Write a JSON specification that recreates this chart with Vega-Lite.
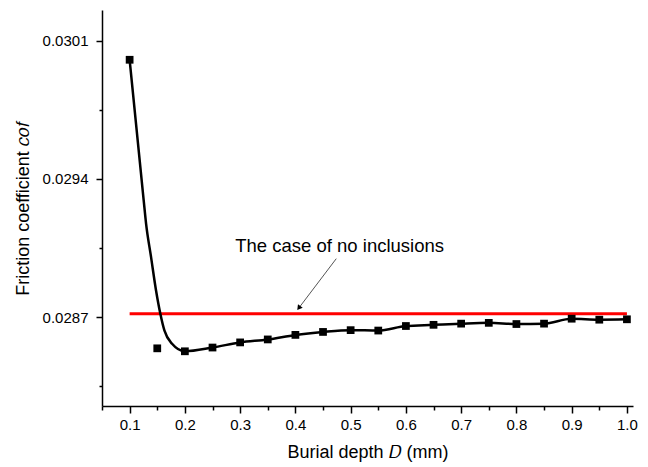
{
  "$schema": "https://vega.github.io/schema/vega-lite/v6.json",
  "width": 531,
  "height": 396,
  "autosize": "none",
  "padding": {"left": 102, "top": 10, "right": 15, "bottom": 61},
  "background": "white",
  "config": {"view": {"stroke": null}, "font": "Liberation Sans"},
  "datasets": {
    "markers": [
      {"x": 0.1, "y": 0.030003}, {"x": 0.15, "y": 0.028542}, {"x": 0.2, "y": 0.028527},
      {"x": 0.25, "y": 0.028546}, {"x": 0.3, "y": 0.028572}, {"x": 0.35, "y": 0.028587},
      {"x": 0.4, "y": 0.02861}, {"x": 0.45, "y": 0.028625}, {"x": 0.5, "y": 0.028634},
      {"x": 0.55, "y": 0.028632}, {"x": 0.6, "y": 0.028655}, {"x": 0.65, "y": 0.028661},
      {"x": 0.7, "y": 0.028667}, {"x": 0.75, "y": 0.028671}, {"x": 0.8, "y": 0.028665},
      {"x": 0.85, "y": 0.028667}, {"x": 0.9, "y": 0.028692}, {"x": 0.95, "y": 0.028687},
      {"x": 1.0, "y": 0.028689}
    ],
    "curve": [
      {"x": 0.1, "y": 0.030003}, {"x": 0.1254, "y": 0.029292}, {"x": 0.1297, "y": 0.029175},
      {"x": 0.1388, "y": 0.029004}, {"x": 0.1478, "y": 0.028835}, {"x": 0.1556, "y": 0.028717},
      {"x": 0.1629, "y": 0.028633}, {"x": 0.1768, "y": 0.028565}, {"x": 0.2, "y": 0.028527},
      {"x": 0.25, "y": 0.028546}, {"x": 0.3, "y": 0.028572}, {"x": 0.35, "y": 0.028587},
      {"x": 0.4, "y": 0.02861}, {"x": 0.45, "y": 0.028625}, {"x": 0.5, "y": 0.028634},
      {"x": 0.55, "y": 0.028632}, {"x": 0.6, "y": 0.028655}, {"x": 0.65, "y": 0.028661},
      {"x": 0.7, "y": 0.028667}, {"x": 0.75, "y": 0.028671}, {"x": 0.8, "y": 0.028665},
      {"x": 0.85, "y": 0.028667}, {"x": 0.9, "y": 0.028692}, {"x": 0.95, "y": 0.028687},
      {"x": 1.0, "y": 0.028689}
    ],
    "reference": [{"x": 0.1, "y": 0.028717}, {"x": 1.0, "y": 0.028717}],
    "arrow": [{"x": 0.474, "y": 0.028996, "x2": 0.4062, "y2": 0.028746}],
    "head": [{"x": 0.4062, "y": 0.028746}],
    "note": [{"x": 0.2912, "y": 0.02903, "label": "The case of no inclusions"}]
  },
  "encoding": {
    "x": {
      "field": "x", "type": "quantitative",
      "scale": {"domain": [0.05, 1.011], "nice": false, "zero": false},
      "axis": {
        "values": [0.05, 0.1, 0.15, 0.2, 0.25, 0.3, 0.35, 0.4, 0.45, 0.5, 0.55, 0.6, 0.65, 0.7, 0.75, 0.8, 0.85, 0.9, 0.95, 1.0],
        "labelExpr": "round(datum.value*100) % 10 == 0 ? format(datum.value, '.1f') : ''",
        "tickSize": {"condition": {"test": "round(datum.value*100) % 10 == 0", "value": 7}, "value": 4},
        "grid": false, "domainColor": "black", "domainWidth": 1.5, "tickColor": "black", "tickWidth": 1.5,
        "labelFontSize": 15, "labelColor": "black", "labelPadding": 4, "labelFlush": false, "labelOverlap": false,
        "title": "Burial depth 𝐷 (mm)", "titleFontSize": 18, "titleFontWeight": "normal", "titleColor": "black", "titlePadding": 11
      }
    },
    "y": {
      "field": "y", "type": "quantitative",
      "scale": {"domain": [0.02825, 0.030255], "nice": false, "zero": false},
      "axis": {
        "values": [0.02835, 0.0287, 0.02905, 0.0294, 0.02975, 0.0301],
        "labelExpr": "round(datum.value*20000) % 2 == 0 ? format(datum.value, '.4f') : ''",
        "tickSize": {"condition": {"test": "round(datum.value*20000) % 2 == 0", "value": 6}, "value": 3},
        "grid": false, "domainColor": "black", "domainWidth": 1.5, "tickColor": "black", "tickWidth": 1.5,
        "labelFontSize": 15, "labelColor": "black", "labelPadding": 8, "labelOverlap": false,
        "title": "Friction coefficient 𝑐𝑜𝑓", "titleFontSize": 18, "titleFontWeight": "normal", "titleColor": "black", "titlePadding": 10
      }
    }
  },
  "layer": [
    {"data": {"name": "reference"}, "mark": {"type": "line", "color": "#ff0000", "strokeWidth": 3}},
    {"data": {"name": "curve"}, "mark": {"type": "line", "color": "black", "strokeWidth": 2.5, "interpolate": "monotone"}},
    {"data": {"name": "markers"}, "mark": {"type": "point", "shape": "square", "filled": true, "color": "black", "size": 60, "opacity": 1}},
    {"data": {"name": "arrow"}, "mark": {"type": "rule", "color": "#555555", "strokeWidth": 1},
     "encoding": {"x2": {"field": "x2"}, "y2": {"field": "y2"}}},
    {"data": {"name": "head"}, "mark": {"type": "point", "shape": "triangle-up", "angle": 217, "filled": true, "color": "black", "size": 35, "opacity": 1}},
    {"data": {"name": "note"}, "mark": {"type": "text", "align": "left", "baseline": "alphabetic", "fontSize": 18.5, "color": "black"},
     "encoding": {"text": {"field": "label"}}}
  ]
}
